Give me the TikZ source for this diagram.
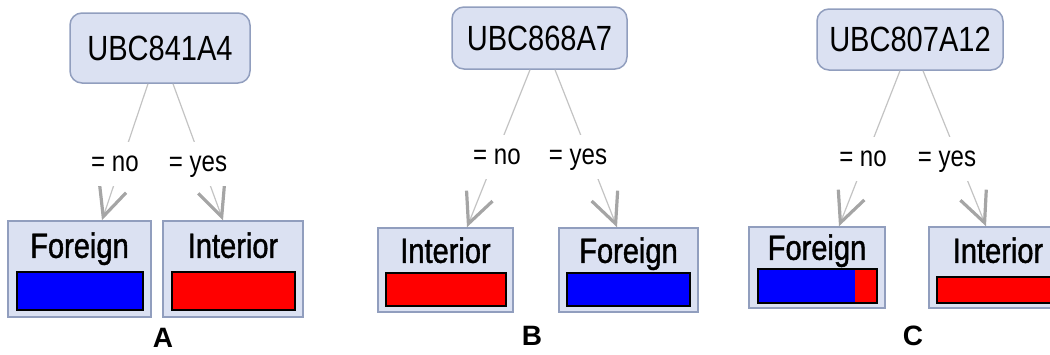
\documentclass[tikz,border=0pt]{standalone}
\usepackage{fontspec}
\usepackage{tikz}
\usetikzlibrary{arrows.meta}
\usetikzlibrary{positioning}
\newfontfamily\treefont[FakeStretch=0.83]{Liberation Sans}
\newfontfamily\leaffont[FakeStretch=0.83,FakeBold=1.2]{Liberation Sans}
\newfontfamily\panelfont{Liberation Sans}
\definecolor{boxfill}{RGB}{219,225,242}
\definecolor{boxline}{RGB}{145,158,190}
\definecolor{edgegray}{RGB}{195,195,195}
\definecolor{tipgray}{RGB}{165,165,165}
\definecolor{barblue}{RGB}{0,0,255}
\definecolor{barred}{RGB}{255,0,0}

\begin{document}
\begin{tikzpicture}[x=1pt,y=-1pt,
  root/.style={draw=boxline,fill=boxfill,line width=1.5pt,rounded corners=12pt,inner sep=0pt,font=\treefont\fontsize{35}{40}\selectfont},
  leaf/.style={draw=boxline,fill=boxfill,line width=1.5pt,inner sep=0pt},
  leaftext/.style={anchor=north,inner sep=0pt,font=\leaffont\fontsize{35}{40}\selectfont},
  branch/.style={draw=edgegray,line width=1.2pt,-{Straight Barb[length=30pt,width=28pt,line width=3.2pt,color=tipgray]}},
  cond/.style={fill=white,inner sep=1pt,minimum height=44pt,text height=15pt,text depth=0pt,font=\treefont\fontsize{29}{32}\selectfont},
  bar/.style={draw=black,line width=2pt},
  panel/.style={font=\panelfont\bfseries\fontsize{28}{32}\selectfont}]
\useasboundingbox (0,0) rectangle (1050,354);
\clip (0,0) rectangle (1050,354);
% tree A
\node[root,minimum width=180pt,minimum height=70pt] (rA) at (160,48) {UBC841A4};
\node[leaf,minimum width=143pt,minimum height=96pt] (fA) at (79.5,269) {};
\node[leaf,minimum width=140pt,minimum height=96pt] (iA) at (233,269) {};
\node[leaftext,yshift=-12pt] at (fA.north) {Foreign};
\node[leaftext,yshift=-12pt] at (iA.north) {Interior};
\draw[bar,fill=barblue] (17,272) rectangle (143,310);
\draw[bar,fill=barred] (172,272) rectangle (295,310);
\draw[branch] ([xshift=-12pt]rA.south) -- ([xshift=22.5pt]fA.north);
\draw[branch] ([xshift=13pt]rA.south) -- ([xshift=-10pt]iA.north);
\node[cond] (noA) at (115,163.5) {= no};
\node[cond] (yesA) at (198,163.5) {= yes};
\node[panel] (pA) at (163,338) {A};
% tree B
\node[root,minimum width=175pt,minimum height=62pt] (rB) at (539.5,38) {UBC868A7};
\node[leaf,minimum width=135pt,minimum height=84pt] (iB) at (445.5,270) {};
\node[leaf,minimum width=139pt,minimum height=84pt] (fB) at (628.5,270) {};
\node[leaftext,yshift=-10pt] at (iB.north) {Interior};
\node[leaftext,yshift=-10pt] at (fB.north) {Foreign};
\draw[bar,fill=barred] (386,273) rectangle (506,306);
\draw[bar,fill=barblue] (567,273) rectangle (690,306);
\draw[branch] ([xshift=-9.5pt]rB.south) -- ([xshift=21.5pt]iB.north);
\draw[branch] ([xshift=15.5pt]rB.south) -- ([xshift=-11.5pt]fB.north);
\node[cond] (noB) at (497,156.5) {= no};
\node[cond] (yesB) at (578,156.5) {= yes};
\node[panel] (pB) at (532,336) {B};
% tree C
\node[root,minimum width=186pt,minimum height=61pt] (rC) at (910,39.5) {UBC807A12};
\node[leaf,minimum width=136pt,minimum height=81pt] (fC) at (817,267.5) {};
\node[leaf,minimum width=138pt,minimum height=81pt] (iC) at (998,267.5) {};
\node[leaftext,yshift=-8pt] at (fC.north) {Foreign};
\node[leaftext,yshift=-11pt] at (iC.north) {Interior};
\fill[barblue] (758,269) rectangle (855,303);
\fill[barred] (855,269) rectangle (877,303);
\draw[bar] (758,269) rectangle (877,303);
\draw[bar,fill=barred] (937,277) rectangle (1059,303);
\draw[branch] ([xshift=-10pt]rC.south) -- ([xshift=22pt]fC.north);
\draw[branch] ([xshift=13pt]rC.south) -- ([xshift=-12pt]iC.north);
\node[cond] (noC) at (863,158.5) {= no};
\node[cond] (yesC) at (947,158.5) {= yes};
\node[panel] (pC) at (913,336) {C};
\end{tikzpicture}
\end{document}
